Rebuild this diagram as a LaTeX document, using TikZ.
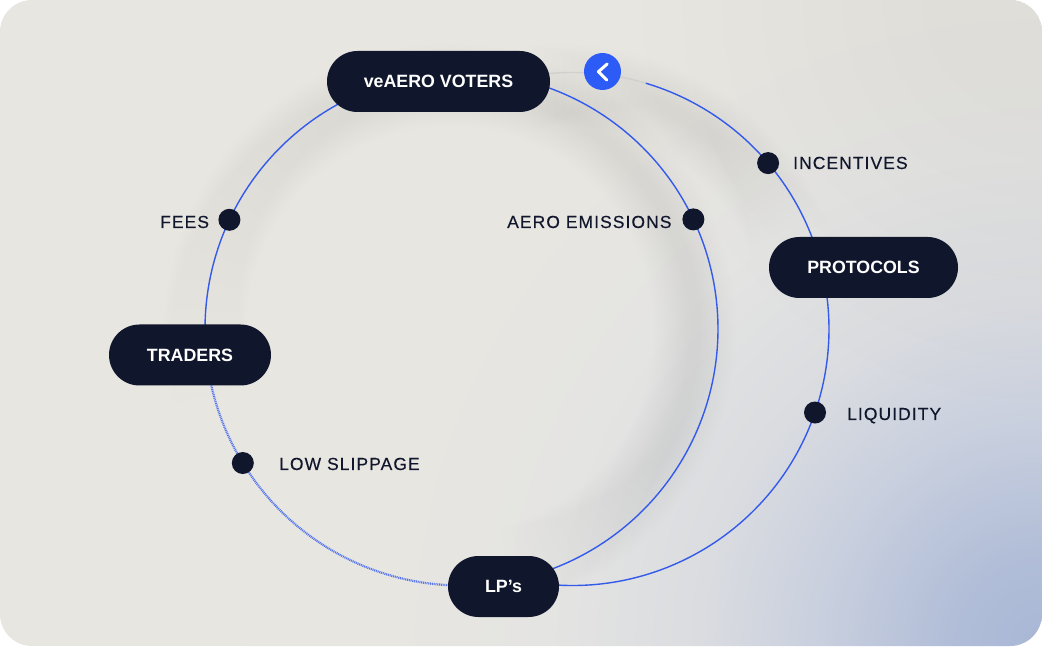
\documentclass[tikz,border=0pt]{standalone}
\usepackage{fontspec}
\setmainfont{Liberation Sans}
\usetikzlibrary{calc}
\definecolor{ink}{RGB}{16,22,43}
\definecolor{wire}{RGB}{52,90,235}
\definecolor{btn}{RGB}{44,91,246}
\definecolor{base}{RGB}{232,230,225}
\definecolor{bga}{RGB}{168,183,214}
\definecolor{bgb}{RGB}{178,190,216}
\definecolor{bgc}{RGB}{200,207,222}
\definecolor{bgd}{RGB}{218,220,224}
\definecolor{bge}{RGB}{228,228,226}
\definecolor{ash}{RGB}{208,208,206}
\pgfdeclareradialshading{bgglow}{\pgfpoint{0bp}{0bp}}{
 color(0bp)=(bga);
 color(3bp)=(bgb);
 color(6.9bp)=(bgc);
 color(10.7bp)=(bgd);
 color(15.4bp)=(bge);
 color(21bp)=(base);
 color(50bp)=(base)}
\tikzset{
 x=1pt,y=1pt,
 pill/.style={fill=ink,rounded corners=30.5pt,minimum height=61pt,inner sep=0pt,text=white,
   font=\fontsize{17.8}{20}\selectfont\bfseries,align=center},
 hub/.style={circle,fill=ink,minimum size=22pt,inner sep=0pt},
 tag/.style={text=ink,inner sep=0pt,font=\fontsize{17.5}{20}\selectfont\addfontfeature{LetterSpace=6,FakeBold=0.25}},
 wireline/.style={draw=wire,line width=1.4pt},
 fineline/.style={draw=wire!85,line width=2.2pt,dash pattern=on 1pt off 0.8pt},
 greyline/.style={draw=ash,line width=1.4pt},
 glow/.style={draw=black,line cap=butt,opacity=0.0032},
}
\def\Rad{256.5}
\begin{document}
\begin{tikzpicture}
\useasboundingbox (0,0) rectangle (1042,646);
\coordinate (lc) at (461.5,317);
\coordinate (rc) at (572.5,317);
\begin{scope}
 \clip[rounded corners=32pt] (0,0) rectangle (1042,646);
 \fill[base] (0,0) rectangle (1042,646);
 \shade[shading=bgglow] (1042,0) circle (800);
 % cooler top right corner
 \foreach \r in {120,160,...,400}{
   \fill[black,opacity=0.003] (1042,646) circle (\r);
 }
 % soft shadows under the two rings
 \foreach \i in {0,...,14}{
   \pgfmathsetmacro{\w}{82-5*\i}
   \pgfmathsetmacro{\sa}{-76+3*\i}
   \pgfmathsetmacro{\ea}{195-6.5*\i}
   \draw[glow,line width=\w pt] (450,316) ++(\sa:245) arc[start angle=\sa,end angle=\ea,radius=245];
   \pgfmathsetmacro{\sb}{22+2*\i}
   \pgfmathsetmacro{\eb}{98-2*\i}
   \draw[glow,line width=\w pt] (562,316) ++(\sb:245) arc[start angle=\sb,end angle=\eb,radius=245];
 }
\end{scope}
% points of the arcs on the rings
\coordinate (a) at ($(lc)+(95.3:\Rad)$);
\coordinate (b) at ($(lc)+(154.8:\Rad)$);
\coordinate (c) at ($(lc)+(185.9:\Rad)$);
\coordinate (d) at ($(lc)+(211.5:\Rad)$);
\coordinate (e) at ($(lc)+(279.3:\Rad)$);
\coordinate (f) at ($(lc)+(25.3:\Rad)$);
\coordinate (g) at ($(rc)+(96:\Rad)$);
\coordinate (h) at ($(rc)+(73.4:\Rad)$);
\coordinate (i) at ($(rc)+(40.3:\Rad)$);
\coordinate (j) at ($(rc)+(13.9:\Rad)$);
\coordinate (k) at ($(rc)+(-19:\Rad)$);
% connectors
\draw[wireline] (a) arc[start angle=95.3,end angle=154.8,radius=\Rad];
\draw[wireline] (b) arc[start angle=154.8,end angle=185.9,radius=\Rad];
\draw[fineline] (c) arc[start angle=185.9,end angle=211.5,radius=\Rad];
\draw[fineline] (d) arc[start angle=211.5,end angle=279.3,radius=\Rad];
\draw[wireline] (a) arc[start angle=95.3,end angle=25.3,radius=\Rad];
\draw[wireline] (f) arc[start angle=25.3,end angle=-80.7,radius=\Rad];
\draw[greyline] (g) arc[start angle=96,end angle=73.4,radius=\Rad];
\draw[wireline] (h) arc[start angle=73.4,end angle=40.3,radius=\Rad];
\draw[wireline] (i) arc[start angle=40.3,end angle=13.9,radius=\Rad];
\draw[wireline] (j) arc[start angle=13.9,end angle=-19,radius=\Rad];
\draw[wireline] (k) arc[start angle=-19,end angle=-96,radius=\Rad];
% pills
\node[pill,minimum width=223pt] (voters) at (438.5,564.5) {\raisebox{-1pt}{veAERO VOTERS}};
\node[pill,minimum width=189pt] (protocols) at (863.5,378.5) {\raisebox{-1pt}{PROTOCOLS}};
\node[pill,minimum width=162pt] (traders) at (190,291) {\raisebox{-1pt}{TRADERS}};
\node[pill,minimum width=111pt] (lps) at (503.5,59.5) {\raisebox{-1pt}{LP’s}};
% hubs
\node[hub] (fees) at (b) {};
\node[hub] (aero) at (f) {};
\node[hub] (slip) at (d) {};
\node[hub] (inc) at (i) {};
\node[hub] (liq) at (k) {};
% labels
\node[tag,anchor=base west] (tfees) at (160,418) {FEES};
\node[tag,anchor=base west] (taero) at (507,418) {AERO EMISSIONS};
\node[tag,anchor=base west] (tslip) at (279,176) {LOW SLIPPAGE};
\node[tag,anchor=base west] (tinc) at (793,477) {INCENTIVES};
\node[tag,anchor=base west] (tliq) at (847,226) {LIQUIDITY};
% back button
\node[circle,fill=btn,minimum size=37pt,inner sep=0pt] (back) at (602.5,574.5) {};
\coordinate (cha) at (607.2,582);
\coordinate (chb) at (598.4,574.3);
\coordinate (chc) at (606.8,566);
\draw[white,line width=3pt,line cap=round,line join=round] (cha) -- (chb) -- (chc);
\end{tikzpicture}
\end{document}
